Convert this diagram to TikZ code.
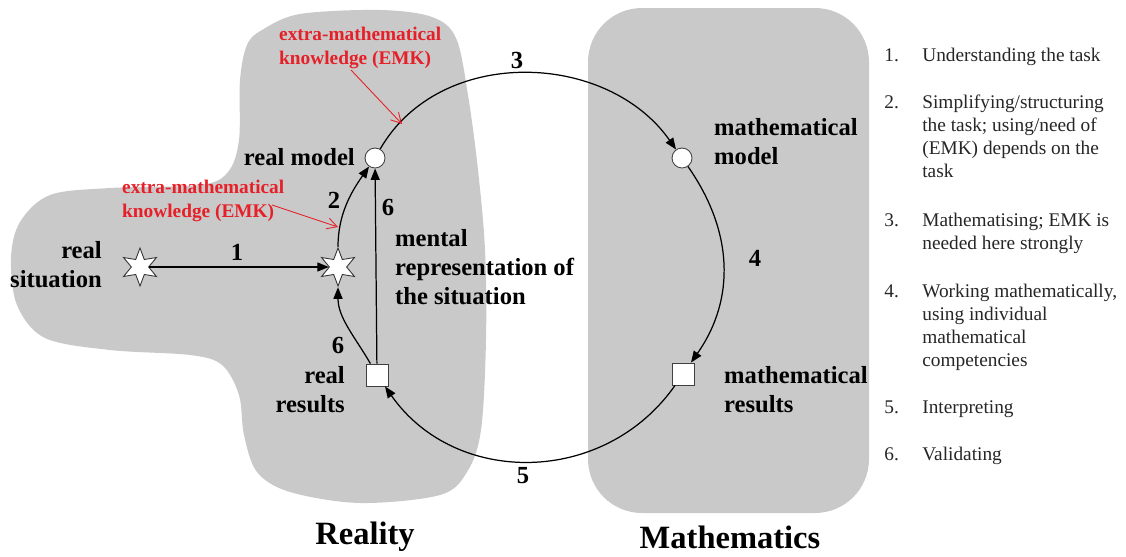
\documentclass[tikz,border=0pt]{standalone}
\usepackage{fontspec}
\setmainfont{Liberation Serif}
\usetikzlibrary{arrows.meta,shapes.geometric}
\definecolor{blobgray}{RGB}{201,201,201}
\definecolor{emkred}{RGB}{230,32,40}
\tikzset{
  st/.style={star,star points=6,star point ratio=2.2,draw=black!80,fill=white,minimum size=0.76cm,inner sep=0pt,line width=.5pt},
  cir/.style={circle,draw=black!75,fill=white,minimum size=0.4cm,inner sep=0pt,line width=.5pt},
  sq/.style={rectangle,draw=black!75,fill=white,minimum size=0.44cm,inner sep=0pt,line width=.5pt},
  flw/.style={-{Triangle[length=2.3mm,width=1.8mm]},line width=.7pt,draw=black},
  emkarr/.style={-{Straight Barb[length=2mm,width=2.2mm]},draw=emkred,line width=.5pt},
  lb/.style={font=\fontsize{14}{16.5}\selectfont\bfseries},
  nb/.style={font=\fontsize{14}{16}\selectfont\bfseries},
  emktx/.style={font=\fontsize{11}{13.5}\selectfont\bfseries,text=emkred,align=left},
  ttl/.style={font=\fontsize{18.5}{22}\selectfont\bfseries},
  itm/.style={font=\fontsize{11}{13}\selectfont,text=black!85,inner sep=0pt,align=left},
}
\begin{document}
\begin{tikzpicture}[x=0.02cm,y=0.02cm]
\useasboundingbox (0,0) rectangle (1126,556);
% ---------- the two worlds ----------
\fill[blobgray] plot[smooth cycle,tension=0.55] coordinates {
  (262,526) (300,542) (380,546) (432,539) (456,518) (468,461) (478,386)
  (485,306) (486,216) (481,126) (467,84) (440,61) (360,53) (290,64)
  (257,84) (244,121) (239,161) (222,191) (190,201) (110,206) (45,218)
  (17,251) (11,298) (20,334) (50,361) (110,368) (200,371) (228,384)
  (239,416) (240,476) (247,511)};
\fill[blobgray,rounded corners=1.08cm] (588,43) rectangle (869,548);
\node[ttl] (real) at (365,19) {Reality};
\node[ttl] (math) at (730,19) {Mathematics};
% ---------- stations of the cycle ----------
\node[st]  (sit) at (140,289) {};
\node[st]  (rep) at (338,289) {};
\node[cir] (rm)  at (375,398) {};
\node[sq]  (rr)  at (377,181) {};
\node[cir] (mm)  at (682,398) {};
\node[sq]  (mr)  at (683,182) {};
\node[lb,anchor=east,align=right] (lsit) at (108,291) {real\\situation};
\node[lb,anchor=east] (lrm) at (361,399) {real model};
\node[lb,anchor=east,align=right] (lrr) at (351,166) {real\\results};
\node[lb,anchor=west,align=left] (lmm) at (708,414) {mathematical\\model};
\node[lb,anchor=west,align=left] (lmr) at (718,166) {mathematical\\results};
\node[lb,anchor=west,align=left] (lrep) at (389,289)
  {mental\\representation of\\the situation};
% ---------- steps ----------
\draw[flw] (sit) -- (rep);
\draw[flw] (rep) to[out=90,in=-125,looseness=.95] (rm);
\draw[flw] (rm) to[out=60,in=125,looseness=1.04] (mm);
\draw[flw] (mm) to[out=-55,in=55,looseness=1.02] (mr);
\draw[flw] (mr) to[out=-125,in=-55,looseness=1.08] (rr);
\draw[flw] (rr) to[out=120,in=-90,looseness=.95] (rep);
\draw[flw] (rr) -- (rm);
\node[nb] (s1)  at (237,304) {1};
\node[nb] (s2)  at (334,356) {2};
\node[nb] (s6a) at (388,349) {6};
\node[nb] (s6b) at (338,211) {6};
\node[nb] (s3)  at (517,496) {3};
\node[nb] (s4)  at (755,298) {4};
\node[nb] (s5)  at (523,80) {5};
% ---------- extra-mathematical knowledge ----------
\node[emktx,anchor=west] (emk1) at (273,508) {extra-mathematical\\knowledge (EMK)};
\node[emktx,anchor=west] (emk2) at (116,355) {extra-mathematical\\knowledge (EMK)};
\coordinate (emk1t) at (402,432);
\coordinate (emk2t) at (338,329);
\draw[emkarr] (351,486) -- (emk1t);
\draw[emkarr] (272,351) -- (emk2t);
% ---------- legend ----------
\foreach \ty/\nm/\tx [count=\i] in {
  508/1./{Understanding the task},
  461/2./{Simplifying/structuring\\the task; using/need of\\(EMK) depends on the\\task},
  343/3./{Mathematising; EMK is\\needed here strongly},
  272/4./{Working mathematically,\\using individual\\mathematical\\competencies},
  156/5./{Interpreting},
  109/6./{Validating}}{
  \node[itm,anchor=north west] (num\i) at (884,\ty) {\nm};
  \node[itm,anchor=north west] (itm\i) at (922,\ty) {\tx};
}
\end{tikzpicture}
\end{document}
